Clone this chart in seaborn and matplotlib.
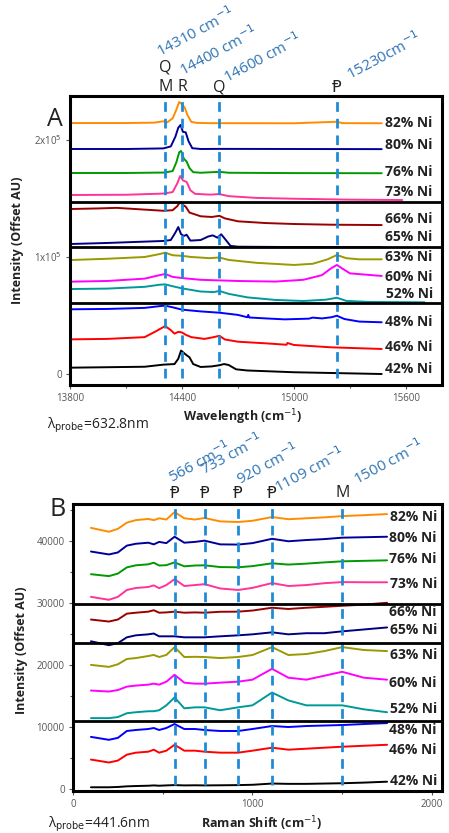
import numpy as np
import pandas as pd
import matplotlib
matplotlib.use('Agg')
import matplotlib.pyplot as plt
import matplotlib.transforms as mtransforms
from matplotlib.ticker import MultipleLocator
import seaborn as sns

# ---------------- datos ----------------
samples = ['82% Ni', '80% Ni', '76% Ni', '73% Ni', '66% Ni', '65% Ni',
           '63% Ni', '60% Ni', '52% Ni', '48% Ni', '46% Ni', '42% Ni']
colors = ['#ff8c00', '#000099', '#009900', '#ff3399', '#990000', '#000080',
          '#999900', '#ff00ff', '#009999', '#0000ff', '#ff0000', '#000000']

# Panel A (wavelength, cm-1)
a_x82 = [13800, 14100, 14250, 14300, 14320, 14350, 14370, 14385, 14400, 14415, 14430, 14450, 14480, 14550, 15000, 15230, 15260, 15470]
a_y82 = [214500, 214500, 214800, 216000, 215000, 218500, 226000, 232500, 230500, 227500, 221000, 215500, 214600, 214400, 214300, 215600, 214400, 214300]
a_x80 = [13800, 14100, 14300, 14340, 14365, 14380, 14392, 14405, 14420, 14435, 14455, 14500, 14600, 15000, 15470]
a_y80 = [192300, 192300, 192800, 194500, 203000, 210500, 212800, 207000, 206500, 199000, 193000, 192300, 192400, 192300, 192200]
a_x76 = [13800, 14100, 14310, 14350, 14370, 14385, 14395, 14410, 14425, 14440, 14460, 14500, 14600, 14650, 15000, 15470]
a_y76 = [171800, 171800, 172200, 173500, 181000, 189500, 190600, 184000, 181500, 176000, 172500, 172000, 172800, 172000, 171700, 171600]
a_x73 = [13800, 14100, 14300, 14350, 14375, 14390, 14405, 14425, 14445, 14470, 14550, 14600, 14650, 14800, 15000, 15300, 15580]
a_y73 = [153000, 153200, 154200, 155500, 163000, 169200, 165500, 164100, 157000, 154000, 153300, 153800, 152000, 150500, 149800, 149000, 148700]
a_x66 = [13800, 13950, 14050, 14200, 14300, 14350, 14375, 14390, 14405, 14420, 14440, 14500, 14560, 14600, 14630, 14700, 14850, 15000, 15200, 15470]
a_y66 = [141000, 141500, 142000, 140500, 139500, 140000, 143500, 147000, 144500, 143000, 138000, 134800, 134200, 135200, 133000, 130500, 129000, 128200, 127600, 127300]
a_x65 = [13800, 14000, 14300, 14340, 14365, 14380, 14395, 14410, 14425, 14445, 14500, 14540, 14565, 14590, 14610, 14630, 14660, 14700, 15000, 15470]
a_y65 = [111100, 112000, 113700, 114500, 121000, 125600, 119500, 118000, 119000, 114000, 114500, 117500, 118500, 116500, 119400, 115500, 109500, 108800, 108500, 108400]
a_x63 = [13800, 14000, 14200, 14280, 14310, 14350, 14400, 14450, 14550, 14600, 14650, 14800, 15000, 15100, 15180, 15230, 15280, 15350, 15470]
a_y63 = [97400, 98500, 100000, 102500, 103700, 101500, 101000, 100000, 99000, 99600, 97500, 95000, 93200, 94200, 98000, 101700, 99000, 98000, 98000]
a_x60 = [13800, 14000, 14200, 14280, 14310, 14350, 14400, 14500, 14600, 14700, 14900, 15050, 15150, 15200, 15230, 15260, 15300, 15470]
a_y60 = [78900, 79500, 81500, 84500, 85500, 83000, 82000, 80500, 80000, 79500, 79000, 80500, 84500, 90500, 93200, 90000, 86000, 83800]
a_x52 = [13800, 14000, 14200, 14280, 14310, 14350, 14400, 14500, 14570, 14600, 14650, 14750, 14900, 15050, 15170, 15230, 15280, 15400, 15700]
a_y52 = [72600, 73000, 74500, 76300, 76600, 75000, 73200, 70500, 70000, 71000, 68500, 65500, 63300, 62400, 63500, 65200, 62500, 61600, 61300]
a_x48 = [13800, 14000, 14200, 14280, 14310, 14350, 14400, 14500, 14600, 14700, 14750, 14755, 14760, 14850, 14950, 15080, 15100, 15150, 15200, 15230, 15270, 15350, 15470]
a_y48 = [55300, 55600, 56500, 58000, 58400, 57000, 55000, 53500, 52400, 50500, 48500, 50500, 48300, 47500, 46700, 47300, 48200, 47500, 48500, 49800, 47000, 44800, 44200]
a_x46 = [13800, 14000, 14200, 14260, 14310, 14340, 14360, 14380, 14400, 14420, 14450, 14520, 14570, 14600, 14630, 14700, 14850, 14960, 14965, 15000, 15200, 15470]
a_y46 = [29600, 30000, 31500, 36500, 41000, 37500, 34500, 36000, 35500, 33500, 31500, 30000, 31500, 32700, 29500, 27600, 26200, 25000, 26500, 24800, 22800, 21400]
a_x42 = [13800, 14000, 14200, 14300, 14360, 14380, 14395, 14410, 14425, 14440, 14460, 14500, 14560, 14600, 14625, 14650, 14690, 14750, 15000, 15470]
a_y42 = [5400, 5800, 6200, 8000, 8500, 13000, 20000, 18000, 16000, 14300, 8500, 6000, 6500, 7500, 8500, 7700, 4000, 3000, 1500, 0]

a_xs = [a_x82, a_x80, a_x76, a_x73, a_x66, a_x65, a_x63, a_x60, a_x52, a_x48, a_x46, a_x42]
a_ys = [a_y82, a_y80, a_y76, a_y73, a_y66, a_y65, a_y63, a_y60, a_y52, a_y48, a_y46, a_y42]

# Panel B (Raman shift, cm-1) - eje x comun
b_x = [100, 200, 250, 300, 350, 420, 450, 480, 520, 566, 620, 680, 733, 820, 920, 1000, 1109, 1200, 1300, 1400, 1500, 1620, 1750]
b_y82 = [42060, 41430, 41900, 42900, 43300, 43500, 43300, 43600, 43400, 44600, 43600, 43400, 43650, 43100, 43000, 43200, 43800, 43450, 43600, 43750, 43950, 44100, 44280]
b_y80 = [38250, 37780, 38100, 39200, 39500, 39670, 39400, 39800, 39600, 40630, 39670, 39800, 40000, 39400, 39370, 39600, 40300, 39900, 40100, 40250, 40480, 40550, 40630]
b_y76 = [34600, 34290, 34700, 35700, 36030, 36190, 36450, 36000, 36050, 36500, 35870, 36000, 36030, 35750, 35710, 35900, 36350, 36150, 36300, 36500, 36670, 36750, 36830]
b_y73 = [30950, 30480, 30950, 32060, 32380, 32540, 32800, 32350, 32850, 33800, 32700, 32850, 33000, 32300, 32060, 32400, 33170, 32700, 32850, 33150, 33330, 33300, 33300]
b_y66 = [27300, 26980, 27300, 28250, 28400, 28570, 28800, 28400, 28450, 28570, 28400, 28450, 28400, 28550, 28570, 28750, 29200, 29000, 29200, 29350, 29520, 29700, 30000]
b_y65 = [23800, 23170, 23500, 24440, 24760, 24920, 25050, 24600, 24600, 24600, 24440, 24440, 24440, 24600, 24760, 24920, 25240, 24920, 25100, 25100, 25400, 25700, 26030]
b_y63 = [20000, 19680, 20100, 20950, 21100, 21430, 21600, 21270, 21600, 22860, 21270, 21300, 21270, 21100, 21270, 21590, 22860, 21590, 21750, 22220, 22860, 22400, 22220]
b_y60 = [15870, 15710, 15950, 16500, 16670, 16820, 16980, 16820, 17300, 18410, 17140, 16980, 16980, 17140, 17300, 17620, 19370, 17940, 17620, 18250, 18890, 17940, 17620]
b_y52 = [11430, 11430, 11600, 12220, 12380, 12540, 12540, 12700, 13490, 14760, 13010, 13170, 13170, 12700, 13170, 13490, 15550, 14280, 13490, 13490, 13490, 12850, 12380]
b_y48 = [8410, 7940, 8250, 9360, 9520, 9680, 9840, 9520, 9840, 10480, 9680, 9680, 9520, 9360, 9360, 9680, 10160, 10000, 10160, 10240, 10320, 10480, 10630]
b_y46 = [4760, 4290, 4600, 5550, 5870, 6030, 6350, 5870, 6190, 7140, 6190, 6190, 6030, 5870, 5870, 6190, 6670, 6350, 6510, 6670, 6830, 6980, 7140]
b_y42 = [300, 300, 350, 450, 500, 550, 600, 550, 600, 650, 600, 620, 600, 620, 650, 700, 900, 850, 850, 900, 950, 1050, 1200]
b_ys = [b_y82, b_y80, b_y76, b_y73, b_y66, b_y65, b_y63, b_y60, b_y52, b_y48, b_y46, b_y42]

# lineas de referencia y etiquetas
a_peaks = [14310, 14400, 14600, 15230]
a_peak_txt = ['14310 cm$^{-1}$', '14400 cm$^{-1}$', '14600 cm$^{-1}$', '15230cm$^{-1}$']
b_peaks = [566, 733, 920, 1109, 1500]
b_peak_txt = ['566 cm$^{-1}$', '733 cm$^{-1}$', '920 cm$^{-1}$', '1109 cm$^{-1}$', '1500 cm$^{-1}$']
a_seps = [147000, 108500, 60700]
b_seps = [29840, 23490, 10950]

# posicion de las etiquetas de muestra (layout)
a_lab_y = [214500, 195700, 172600, 155600, 132500, 117100, 100000, 82900, 68400, 44400, 23100, 4300]
b_lab_y = [43800, 40470, 36980, 33010, 28570, 25550, 21590, 17140, 12850, 9520, 6350, 1270]

# ---------------- figura ----------------
sns.set_theme(style='white')
plt.rcParams['font.family'] = ['Open Sans', 'DejaVu Sans']
plt.rcParams['mathtext.fontset'] = 'dejavusans'

fig = plt.figure(figsize=(4.49, 8.33), dpi=100)
axA = fig.add_axes([70/449, 1-385/833, 372/449, 289/833])
axB = fig.add_axes([73/449, 1-791/833, 369/449, 287/833])

palette = dict(zip(samples, colors))
dash_c = '#1f8bd6'
txt_c = '#2e74b5'

dfA = pd.concat([pd.DataFrame({'x': x, 'y': y, 's': s}) for x, y, s in zip(a_xs, a_ys, samples)])
dfB = pd.concat([pd.DataFrame({'x': b_x, 'y': y, 's': s}) for y, s in zip(b_ys, samples)])

for ax, df in [(axA, dfA), (axB, dfB)]:
    sns.lineplot(data=df, x='x', y='y', hue='s', palette=palette, hue_order=samples,
                 estimator=None, sort=False, legend=False, lw=1.4, ax=ax)

# ---- panel A ----
axA.set_xlim(13800, 15793)
axA.set_ylim(-9400, 237600)
for p in a_peaks:
    axA.axvline(p, ymin=0.025, ymax=1, color=dash_c, lw=2, ls=(0, (3.5, 2.5)), zorder=4)
for s in a_seps:
    axA.axhline(s, color='black', lw=2, zorder=5)
axA.set_xticks([13800, 14400, 15000, 15600])
axA.xaxis.set_minor_locator(MultipleLocator(300))
axA.set_yticks([0, 100000, 200000])
axA.set_yticklabels(['0', '1x10$^{5}$', '2x10$^{5}$'])
for i, s in enumerate(samples):
    axA.text(15744, a_lab_y[i], s, ha='right', va='center', fontsize=10,
             fontweight='bold', color='#222222', zorder=6)

trA = mtransforms.blended_transform_factory(axA.transData, axA.transAxes)
for p, t, xs, ys in zip(a_peaks, a_peak_txt, [14282, 14405, 14641, 15300], [1.135, 1.069, 1.045, 1.055]):
    axA.text(xs, ys, t, transform=trA, rotation=28, rotation_mode='anchor',
             ha='left', va='baseline', color=txt_c, fontsize=11, clip_on=False)
for lx, ly, lt in [(14310, 1.097, 'Q'), (14310, 1.031, 'M'), (14400, 1.031, 'R'),
                   (14600, 1.031, 'Q'), (15230, 1.031, '\u2c63')]:
    axA.text(lx, ly, lt, transform=trA, ha='center', va='center', fontsize=11.5,
             color='#222222', clip_on=False, family=['DejaVu Sans'] if lt == '\u2c63' else None)

# ---- panel B ----
axB.set_xlim(0, 2056)
axB.set_ylim(-300, 45900)
for p in b_peaks:
    axB.axvline(p, ymin=0.02, ymax=1, color=dash_c, lw=2, ls=(0, (3.5, 2.5)), zorder=4)
for s in b_seps:
    axB.axhline(s, color='black', lw=2, zorder=5)
axB.set_xticks([0, 1000, 2000])
axB.xaxis.set_minor_locator(MultipleLocator(500))
axB.set_yticks([0, 10000, 20000, 30000, 40000])
axB.yaxis.set_minor_locator(MultipleLocator(5000))
for i, s in enumerate(samples):
    axB.text(2028, b_lab_y[i], s, ha='right', va='center', fontsize=10,
             fontweight='bold', color='#222222', zorder=6)

trB = mtransforms.blended_transform_factory(axB.transData, axB.transAxes)
for p, t, xs, ys in zip(b_peaks, b_peak_txt, [552, 730, 930, 1142, 1582], [1.073, 1.101, 1.066, 1.038, 1.066]):
    axB.text(xs, ys, t, transform=trB, rotation=28, rotation_mode='anchor',
             ha='left', va='baseline', color=txt_c, fontsize=11, clip_on=False)
for lx, lt in zip(b_peaks, ['\u2c63', '\u2c63', '\u2c63', '\u2c63', 'M']):
    axB.text(lx, 1.038, lt, transform=trB, ha='center', va='center', fontsize=11.5,
             color='#222222', clip_on=False, family=['DejaVu Sans'] if lt != 'M' else None)

# ---- estilo comun ----
for ax in [axA, axB]:
    for sp in ax.spines.values():
        sp.set_linewidth(2.2)
        sp.set_color('black')
    ax.tick_params(which='both', direction='out', bottom=True, left=True, length=3,
                   width=0.8, color='#555555', labelsize=7, labelcolor='#555555', pad=3)
    ax.tick_params(which='minor', length=2)
    ax.set_xlabel('')
    ax.set_ylabel('')

fig.text(243/449, 1-417/833, 'Wavelength (cm$^{-1}$)', ha='center', va='center',
         fontsize=9, fontweight='bold', color='#222222')
fig.text(262/449, 1-824/833, 'Raman Shift (cm$^{-1}$)', ha='center', va='center',
         fontsize=9, fontweight='bold', color='#222222')
fig.text(18/449, 1-240/833, 'Intensity (Offset AU)', rotation=90, ha='center', va='center',
         fontsize=9, fontweight='bold', color='#222222')
fig.text(22/449, 1-650/833, 'Intensity (Offset AU)', rotation=90, ha='center', va='center',
         fontsize=9, fontweight='bold', color='#222222')
fig.text(47/449, 1-425/833, '\u03bb$_{\\mathrm{probe}}$=632.8nm', ha='left', va='center',
         fontsize=10, color='#222222')
fig.text(48/449, 1-824/833, '\u03bb$_{\\mathrm{probe}}$=441.6nm', ha='left', va='center',
         fontsize=10, color='#222222')
fig.text(55/449, 1-120/833, 'A', ha='center', va='center', fontsize=18, color='#222222')
fig.text(58/449, 1-510/833, 'B', ha='center', va='center', fontsize=18, color='#222222')

fig.savefig('out.png', dpi=100)
